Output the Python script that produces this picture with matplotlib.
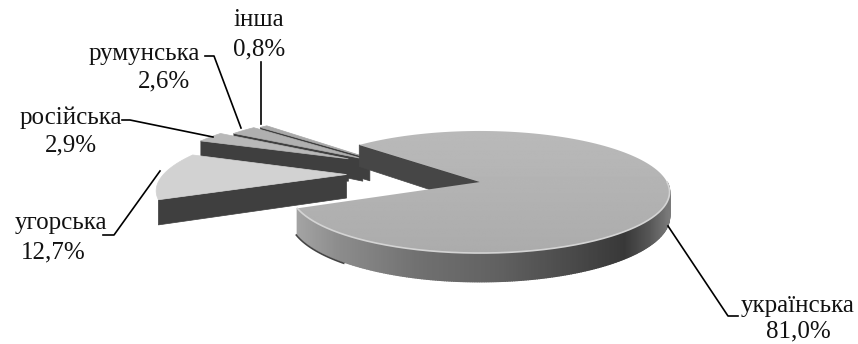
import numpy as np
import matplotlib
matplotlib.use("Agg")
import matplotlib.pyplot as plt
from matplotlib.patches import Polygon

# ==========================
# Data
# ==========================

labels = ["українська", "інша", "румунська", "російська", "угорська"]
values = [81.0, 0.8, 2.6, 2.9, 12.7]
explode = [0.0, 0.76, 0.79, 0.86, 0.74]
explode_dir = [0, 146, 148, 151, 170]

# ==========================
# Projection (fake 3D pie, axes are in image pixels)
# ==========================

CX, CY = 480, 182
RX, RY = 187, 59.4
PERSP = 0.164
DEPTH = 24
START = 136 - 291.6   # main slice ends on the rear edge at 136 deg


def project(X, Y):
    s = 1 / (1 + PERSP * Y)
    return CX + RX * X * s, CY - RY * Y * s, s


def offset(i):
    d = np.radians(explode_dir[i])
    return explode[i] * np.cos(d), explode[i] * np.sin(d)


def top_polygon(a0, a1, i):
    ox, oy = offset(i)
    t = np.radians(np.linspace(a0, a1, max(int(a1 - a0) * 2, 4)))
    X = np.r_[ox, ox + np.cos(t)]
    Y = np.r_[oy, oy + np.sin(t)]
    return project(X, Y)


def side_face(ax, a, i, color):
    ox, oy = offset(i)
    x0, y0, s0 = project(ox, oy)
    x1, y1, s1 = project(ox + np.cos(np.radians(a)), oy + np.sin(np.radians(a)))
    ax.add_patch(Polygon([(x0, y0), (x1, y1), (x1, y1 + DEPTH * s1), (x0, y0 + DEPTH * s0)],
                         closed=True, fc=color, ec=color, lw=0.5))


fig = plt.figure(figsize=(8.58, 3.44), dpi=100)
ax = fig.add_axes([0, 0, 1, 1])
ax.set_xlim(0, 858)
ax.set_ylim(344, 0)
ax.axis("off")

# angle ranges from the values
spans = [v * 3.6 for v in values]
edges = START + np.r_[0, np.cumsum(spans)]

top_colors = ["#b6b6b6", "#a8a8a8", "#b0b0b0", "#b8b8b8", "#d2d2d2"]
DARK = "#3f3f3f"

# exploded slices, rear first
for i in range(1, 5):
    a0, a1 = edges[i], edges[i + 1]
    side_face(ax, a1, i, DARK)
    x, y, s = top_polygon(a0, a1, i)
    ax.add_patch(Polygon(np.c_[x, y], closed=True, fc=top_colors[i], ec=top_colors[i], lw=0.5))

# main slice: rear radial face
a0, a1 = edges[0], edges[1]
side_face(ax, a1, 0, "#464646")

# main slice: rim, shaded along x
ang = np.linspace(a0, 0, 260)
t = np.radians(ang)
rx, ry, rs = project(np.cos(t), np.sin(t))
shade_x = [290, 340, 420, 500, 580, 625, 650, 672]
shade_v = [0.66, 0.55, 0.44, 0.38, 0.28, 0.22, 0.34, 0.50]
for k in range(len(t) - 1):
    g = np.interp((rx[k] + rx[k + 1]) / 2, shade_x, shade_v)
    ax.add_patch(Polygon([(rx[k], ry[k]), (rx[k + 1], ry[k + 1]),
                          (rx[k + 1], ry[k + 1] + DEPTH * rs[k + 1]),
                          (rx[k], ry[k] + DEPTH * rs[k])],
                         closed=True, fc=str(g), ec=str(g), lw=1.0))

# dark sliver under the left part of the rim
left = rx < 345
ax.plot(rx[left] - 1, (ry + DEPTH * rs + 1)[left], color="#444444", lw=1.2)

# main slice: top with soft gradient
x, y, s = top_polygon(a0, a1, 0)
top = Polygon(np.c_[x, y], closed=True, fc="none", ec="none")
ax.add_patch(top)
grad = 0.73 - 0.06 * np.linspace(0, 1, 256).reshape(-1, 1) * np.ones((256, 256))
im = ax.imshow(grad, extent=[285, 675, 260, 125], cmap="gray", vmin=0, vmax=1,
               aspect="auto", zorder=3)
im.set_clip_path(top)
ax.set_xlim(0, 858)
ax.set_ylim(344, 0)

# light bevel on the front edge
ax.plot(rx, ry, color="#d4d4d4", lw=1.2, zorder=4, solid_capstyle="round")

# ==========================
# Labels and leader lines
# ==========================

plt.rcParams["font.family"] = ["Liberation Serif", "DejaVu Serif"]
FS = 18

label_pos = {
    "інша": (259, 20, 259, 49),
    "румунська": (144, 54, 164, 81),
    "російська": (71, 118, 71, 145),
    "угорська": (61, 223, 53, 252),
    "українська": (798, 306, 798, 331),
}
for name, v in zip(labels, values):
    lx, ly, px, py = label_pos[name]
    ax.text(lx, ly, name, ha="center", va="center", fontsize=FS, color="#111111", zorder=6)
    ax.text(px, py, f"{v:.1f}".replace(".", ",") + "%", ha="center", va="center",
            fontsize=FS, color="#111111", zorder=6)

leaders = [
    ([261, 261], [62, 124]),
    ([205, 214, 241], [56, 56, 128]),
    ([122, 130, 213], [120, 120, 137]),
    ([103, 114, 160], [235, 235, 171]),
    ([668, 728, 738], [226, 316, 316]),
]
for lx, ly in leaders:
    ax.plot(lx, ly, color="black", lw=1.2, zorder=5)

fig.savefig("out.png", dpi=100)
